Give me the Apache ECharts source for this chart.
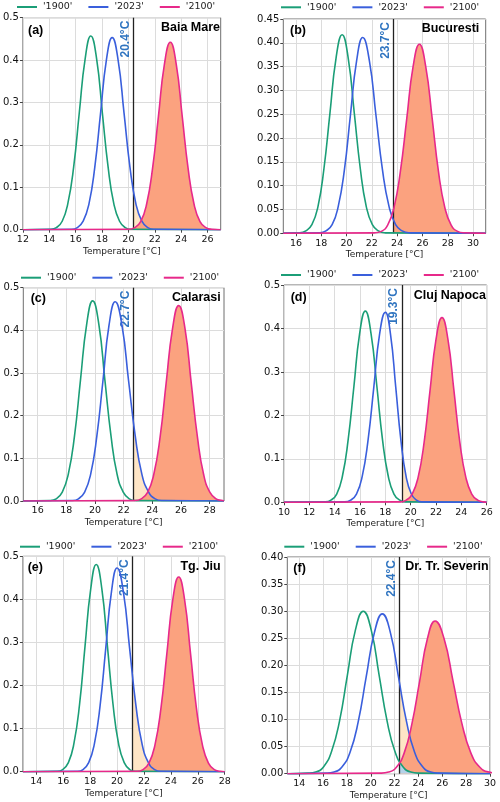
<!DOCTYPE html>
<html><head><meta charset="utf-8">
<script src="https://cdn.jsdelivr.net/npm/echarts@6/dist/echarts.min.js"></script>
<style>html,body{margin:0;padding:0;background:#fff}#c{width:500px;height:802px}</style>
</head><body><div id="c"></div>
<script>
// ---------------- data ----------------
const panelLetters = ['(a)', '(b)', '(c)', '(d)', '(e)', '(f)'];
const stations = ['Baia Mare', 'Bucuresti', 'Calarasi', 'Cluj Napoca', 'Tg. Jiu', 'Dr. Tr. Severin'];
const seriesNames = ["'1900'", "'2023'", "'2100'"];
const thresholds = [20.4, 23.7, 22.7, 19.3, 21.15, 22.4];
const thresholdLabels = ['20.4°C', '23.7°C', '22.7°C', '19.3°C', '21.4°C', '22.4°C'];
const xMin = [12, 15, 15, 10, 13, 13];
const xMax = [27, 31, 29, 26, 28, 30];
const xTicks = [
  [12, 14, 16, 18, 20, 22, 24, 26],
  [16, 18, 20, 22, 24, 26, 28, 30],
  [16, 18, 20, 22, 24, 26, 28],
  [10, 12, 14, 16, 18, 20, 22, 24, 26],
  [14, 16, 18, 20, 22, 24, 26, 28],
  [14, 16, 18, 20, 22, 24, 26, 28, 30]
];
const yMax = [0.5, 0.45, 0.5, 0.5, 0.5, 0.4];
const yStep = [0.1, 0.05, 0.1, 0.1, 0.1, 0.05];
const yDecimals = [1, 2, 1, 1, 1, 2];

// density curves: [temperature, density]
const a1900 = [[14.11,.001],[14.54,.005],[14.98,.020],[15.41,.062],[15.85,.148],[16.28,.277],[16.72,.403],[17.15,.457],[17.59,.403],[18.02,.277],[18.46,.148],[18.89,.062],[19.33,.020],[19.76,.005],[20.2,.001]];
const a2023 = [[15.69,.001],[16.13,.005],[16.57,.020],[17.01,.061],[17.45,.147],[17.89,.275],[18.33,.400],[18.77,.453],[19.22,.400],[19.67,.275],[20.12,.147],[20.57,.061],[21.02,.020],[21.47,.005],[21.92,.001]];
const a2100 = [[20.03,.001],[20.48,.005],[20.93,.019],[21.38,.060],[21.83,.144],[22.28,.268],[22.73,.390],[23.18,.442],[23.63,.390],[24.08,.268],[24.53,.144],[24.98,.060],[25.43,.019],[25.88,.005],[26.33,.001]];

const b1900 = [[16.30,.001],[16.78,.005],[17.26,.018],[17.74,.056],[18.21,.135],[18.69,.253],[19.17,.368],[19.65,.417],[20.13,.368],[20.61,.253],[21.09,.135],[21.56,.056],[22.04,.018],[22.52,.005],[23.00,.001]];
const b2023 = [[17.89,.001],[18.37,.005],[18.86,.018],[19.34,.056],[19.83,.133],[20.31,.249],[20.80,.363],[21.28,.411],[21.80,.363],[22.32,.249],[22.84,.133],[23.36,.056],[23.88,.018],[24.40,.005],[24.92,.001]];
const b2100 = [[22.24,.001],[22.75,.004],[23.25,.017],[23.75,.054],[24.25,.129],[24.76,.241],[25.26,.350],[25.76,.397],[26.26,.350],[26.77,.241],[27.27,.129],[27.77,.054],[28.27,.017],[28.78,.004],[29.28,.001]];

const c1900 = [[16.87,.001],[17.29,.005],[17.72,.021],[18.14,.063],[18.57,.152],[18.99,.284],[19.42,.414],[19.84,.469],[20.27,.414],[20.69,.284],[21.12,.152],[21.54,.063],[21.97,.021],[22.39,.005],[22.82,.001]];
const c2023 = [[18.42,.001],[18.85,.005],[19.28,.021],[19.70,.063],[20.13,.152],[20.56,.283],[20.98,.412],[21.41,.467],[21.88,.412],[22.34,.283],[22.81,.152],[23.27,.063],[23.74,.021],[24.20,.005],[24.67,.001]];
const c2100 = [[22.80,.001],[23.23,.005],[23.67,.020],[24.10,.062],[24.54,.149],[24.97,.278],[25.41,.404],[25.84,.458],[26.28,.404],[26.71,.278],[27.15,.149],[27.58,.062],[28.02,.020],[28.45,.005],[28.89,.001]];

const d1900 = [[13.25,.001],[13.71,.005],[14.16,.019],[14.61,.060],[15.06,.143],[15.52,.267],[15.97,.388],[16.42,.440],[16.87,.388],[17.33,.267],[17.78,.143],[18.23,.060],[18.68,.019],[19.14,.005],[19.59,.001]];
const d2023 = [[14.80,.001],[15.26,.005],[15.72,.019],[16.17,.059],[16.63,.142],[17.09,.265],[17.54,.386],[18.00,.437],[18.41,.386],[18.82,.265],[19.23,.142],[19.64,.059],[20.05,.019],[20.46,.005],[20.87,.001]];
const d2100 = [[19.18,.001],[19.65,.005],[20.12,.019],[20.59,.058],[21.06,.138],[21.53,.258],[22.00,.375],[22.47,.425],[22.94,.375],[23.41,.258],[23.88,.138],[24.35,.058],[24.82,.019],[25.29,.005],[25.76,.001]];

const e1900 = [[15.55,.001],[15.96,.005],[16.38,.021],[16.79,.065],[17.21,.156],[17.62,.292],[18.04,.424],[18.45,.481],[18.87,.424],[19.28,.292],[19.70,.156],[20.11,.065],[20.53,.021],[20.94,.005],[21.36,.001]];
const e2023 = [[17.05,.001],[17.47,.005],[17.89,.021],[18.31,.064],[18.74,.154],[19.16,.287],[19.58,.417],[20.00,.473],[20.47,.417],[20.93,.287],[21.40,.154],[21.86,.064],[22.33,.021],[22.79,.005],[23.26,.001]];
const e2100 = [[21.49,.001],[21.93,.005],[22.37,.020],[22.81,.061],[23.26,.147],[23.70,.274],[24.14,.399],[24.58,.452],[25.02,.399],[25.46,.274],[25.90,.147],[26.35,.061],[26.79,.020],[27.23,.005],[27.67,.001]];

const f1900 = [[14.72,.001],[15.38,.003],[16.05,.013],[16.71,.041],[17.38,.097],[18.04,.182],[18.71,.265],[19.37,.300],[20.04,.265],[20.70,.182],[21.37,.097],[22.03,.041],[22.70,.013],[23.36,.003],[24.03,.001]];
const f2023 = [[16.25,.001],[16.92,.003],[17.60,.013],[18.27,.040],[18.95,.096],[19.62,.179],[20.30,.260],[20.97,.295],[21.65,.260],[22.32,.179],[23.00,.096],[23.67,.040],[24.35,.013],[25.02,.003],[25.70,.001]];
const f2100 = [[20.85,.001],[21.50,.003],[22.15,.012],[22.80,.038],[23.45,.092],[24.10,.171],[24.75,.249],[25.40,.282],[26.15,.249],[26.90,.171],[27.65,.092],[28.40,.038],[29.15,.012],[29.90,.003],[30.65,.001]];

const curves = [
  [a1900, a2023, a2100], [b1900, b2023, b2100], [c1900, c2023, c2100],
  [d1900, d2023, d2100], [e1900, e2023, e2100], [f1900, f2023, f2100]
];

// ---------------- layout & style ----------------
const grids = [
  {left: 21.7, top: 17.7, width: 199, height: 212},
  {left: 283.3, top: 19, width: 202.4, height: 214.3},
  {left: 23.3, top: 287.7, width: 200.7, height: 213.3},
  {left: 284, top: 285, width: 202.7, height: 217.3},
  {left: 22.7, top: 556.3, width: 202, height: 215.4},
  {left: 287.3, top: 557, width: 202.7, height: 216.7}
];
const legendPos = [[17, 2], [281, 2.3], [21, 272.7], [281, 270], [20, 541.7], [284.3, 541.7]];
const letterPos = [[28, 24], [290, 24], [30.7, 292], [290.7, 291], [27.7, 561.5], [293.3, 562]];
const namePos = [[280, 21], [20.7, 22], [279.3, 291], [14, 289], [279.3, 560], [11.3, 560.5]];
const lineColors = ['#1b9e77', '#3a5fdc', '#e7298a'];
const fillColors = ['#b4d2e8', '#fee5c6', '#fba27f'];
const fillZ = [4, 2, 3];
const tickFont = 'DejaVu Sans';
const boldFont = 'Liberation Sans';

const option = {
  animation: false,
  backgroundColor: '#fff',
  grid: [], xAxis: [], yAxis: [], series: [], legend: [], title: [], visualMap: []
};

for (let p = 0; p < 6; p++) {
  option.grid.push(Object.assign({show: true, borderColor: '#6f6f6f', borderWidth: 1, backgroundColor: 'transparent'}, grids[p]));
  option.xAxis.push({
    type: 'value', gridIndex: p, min: xMin[p], max: xMax[p],
    name: 'Temperature [°C]', nameLocation: 'middle', nameGap: 17,
    nameTextStyle: {fontSize: 9, color: '#222', fontFamily: tickFont},
    axisLine: {show: false},
    axisTick: {show: true, customValues: xTicks[p], length: 3, lineStyle: {color: '#444'}},
    axisLabel: {customValues: xTicks[p], fontSize: 9.5, color: '#111', margin: 5, fontFamily: tickFont},
    splitLine: {show: true, lineStyle: {color: '#dcdcdc', width: 1}}
  });
  option.yAxis.push({
    type: 'value', gridIndex: p, min: 0, max: yMax[p], interval: yStep[p],
    axisLine: {show: false},
    axisTick: {show: true, length: 3, lineStyle: {color: '#444'}},
    axisLabel: {fontSize: 10, color: '#111', margin: 4, fontFamily: tickFont,
      formatter: (v) => v.toFixed(yDecimals[p])},
    splitLine: {show: true, lineStyle: {color: '#dcdcdc', width: 1}}
  });

  const pts = curves[p].map(c => [[xMin[p], 0]].concat(c, c[c.length - 1][0] < xMax[p] ? [[xMax[p], 0]] : []));

  // shaded exceedance areas (right of threshold)
  for (const k of [1, 2, 0]) {
    option.visualMap.push({
      type: 'piecewise', show: false, dimension: 0, seriesIndex: option.series.length,
      pieces: [
        {lt: thresholds[p], color: 'rgba(255,255,255,0)'},
        {gte: thresholds[p], lte: 1000, color: fillColors[k]}
      ]
    });
    option.series.push({
      type: 'line', name: 'fill' + k, xAxisIndex: p, yAxisIndex: p, data: pts[k],
      smooth: 0.5, symbol: 'none', silent: true,
      lineStyle: {width: 0, opacity: 0}, areaStyle: {opacity: 1}, z: fillZ[k]
    });
  }
  // curves
  for (let k = 0; k < 3; k++) {
    const s = {
      type: 'line', name: seriesNames[k], xAxisIndex: p, yAxisIndex: p, data: pts[k],
      smooth: 0.5, symbol: 'none', silent: true,
      lineStyle: {color: lineColors[k], width: 1.6}, itemStyle: {color: lineColors[k]}, z: 5 + k
    };
    if (k === 2) {
      s.markLine = {
        silent: true, symbol: 'none', animation: false,
        lineStyle: {color: '#222', width: 1.3, type: 'solid'},
        label: {show: true, position: 'insideEndTop', formatter: thresholdLabels[p], distance: [3, 2],
          color: '#2f74c0', fontWeight: 'bold', fontSize: 12, fontFamily: boldFont},
        data: [{xAxis: thresholds[p]}]
      };
    }
    option.series.push(s);
  }
  option.legend.push({
    data: seriesNames.map((n, k) => ({name: n, icon: 'rect', itemStyle: {color: lineColors[k]}})),
    left: legendPos[p][0], top: legendPos[p][1], padding: 0,
    itemWidth: 20, itemHeight: 2, itemGap: 16, selectedMode: false,
    textStyle: {fontSize: 9.5, color: '#222', fontFamily: tickFont, padding: [0, 0, 0, 1]}
  });
  option.title.push({
    text: panelLetters[p], left: letterPos[p][0], top: letterPos[p][1], padding: 0,
    textStyle: {fontSize: 12.5, fontWeight: 'bold', color: '#000', fontFamily: boldFont}
  });
  option.title.push({
    text: stations[p], right: namePos[p][0], top: namePos[p][1], padding: 0,
    textStyle: {fontSize: 12.5, fontWeight: 'bold', color: '#000', fontFamily: boldFont}
  });
}

const chart = echarts.init(document.getElementById('c'), null, {renderer: 'canvas'});
chart.setOption(option);
</script>
</body></html>
